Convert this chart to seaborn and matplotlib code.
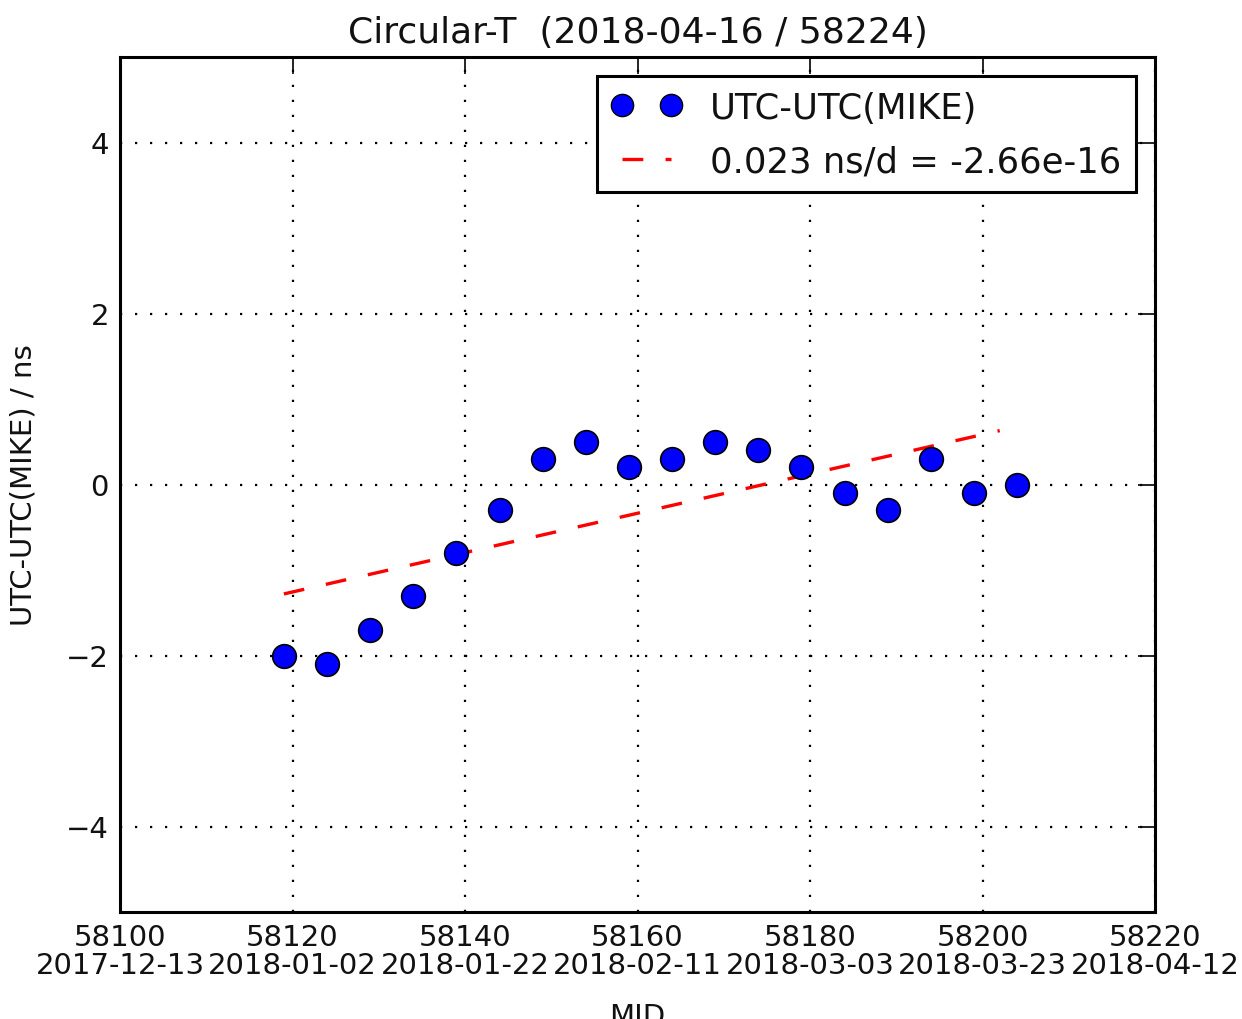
import matplotlib
matplotlib.use("Agg")
import matplotlib.pyplot as plt
import seaborn as sns
import pandas as pd
from matplotlib.lines import Line2D

# ---- data ----
mjd = [58119, 58124, 58129, 58134, 58139, 58144, 58149, 58154, 58159,
       58164, 58169, 58174, 58179, 58184, 58189, 58194, 58199, 58204]
offset_ns = [-2.0, -2.1, -1.7, -1.3, -0.8, -0.3, 0.3, 0.5, 0.2,
             0.3, 0.5, 0.4, 0.2, -0.1, -0.3, 0.3, -0.1, 0.0]
fit_mjd = [58119, 58202]
fit_ns = [-1.28, 0.63]
xtick_vals = [58100, 58120, 58140, 58160, 58180, 58200, 58220]
xtick_dates = ["2017-12-13", "2018-01-02", "2018-01-22", "2018-02-11",
               "2018-03-03", "2018-03-23", "2018-04-12"]
ytick_vals = [-4, -2, 0, 2, 4]
series_label = "UTC-UTC(MIKE)"
fit_label = "0.023 ns/d = -2.66e-16"
title = "Circular-T  (2018-04-16 / 58224)"

sns.set_style("white")
plt.rcParams['font.family'] = ['DejaVu Sans']
plt.rcParams['lines.scale_dashes'] = False
plt.rcParams['text.color'] = '#111111'
plt.rcParams['axes.labelcolor'] = '#111111'

df = pd.DataFrame({"MJD": mjd, "val": offset_ns})
fit_df = pd.DataFrame({"MJD": fit_mjd, "val": fit_ns})

fig = plt.figure(figsize=(12.42, 10.20), dpi=100)
ax = fig.add_axes([120/1242, 1-913/1020, (1155-120)/1242, (913-58)/1020])

sns.lineplot(data=fit_df, x="MJD", y="val", ax=ax, color="red",
             linewidth=2.4, dashes=False, legend=False)
ax.lines[-1].set_dashes((15, 16))
sns.scatterplot(data=df, x="MJD", y="val", ax=ax, color="blue",
                edgecolor="black", linewidth=1.2, s=290, zorder=3, legend=False)

ax.set_xlim(58100, 58220)
ax.set_ylim(-5, 5)
ax.set_xticks(xtick_vals)
ax.set_xticklabels([f"{v}\n{d}" for v, d in zip(xtick_vals, xtick_dates)])
ax.set_yticks(ytick_vals)
ax.set_yticklabels([f"{v}".replace("-", "\u2212") for v in ytick_vals])
ax.tick_params(direction="in", length=12, width=1.2, labelsize=21,
               top=True, right=True, colors="black", labelcolor="#111111", pad=8)
for tl in ax.get_xticklabels():
    tl.set_linespacing(1.0)
ax.grid(True, color="black", linestyle=(0, (1.6, 9.2)), linewidth=1.6)
for sp in ax.spines.values():
    sp.set_color("black")
    sp.set_linewidth(2.2)

ax.set_title(title, fontsize=26, pad=11)
ax.set_ylabel("UTC-UTC(MIKE) / ns", fontsize=21)
ax.yaxis.set_label_coords(-0.08, 0.5)
ax.set_xlabel("MJD", fontsize=21)
ax.xaxis.set_label_coords(0.5, -0.105)

handles = [
    Line2D([0, 1], [0, 0], marker="o", color="blue", markeredgecolor="black",
           markersize=16, linestyle="none"),
    Line2D([0, 1], [0, 0], color="red", linewidth=2.4, dashes=(15, 16)),
]
leg = ax.legend(handles, [series_label, fit_label], loc="upper right",
                numpoints=2, fontsize=25.5, frameon=True, fancybox=False,
                edgecolor="black", framealpha=1, handlelength=2.0,
                borderaxespad=0.55, handletextpad=0.8, labelspacing=0.55,
                borderpad=0.4)
leg.get_frame().set_linewidth(2.2)

fig.savefig("out.png", dpi=100)
